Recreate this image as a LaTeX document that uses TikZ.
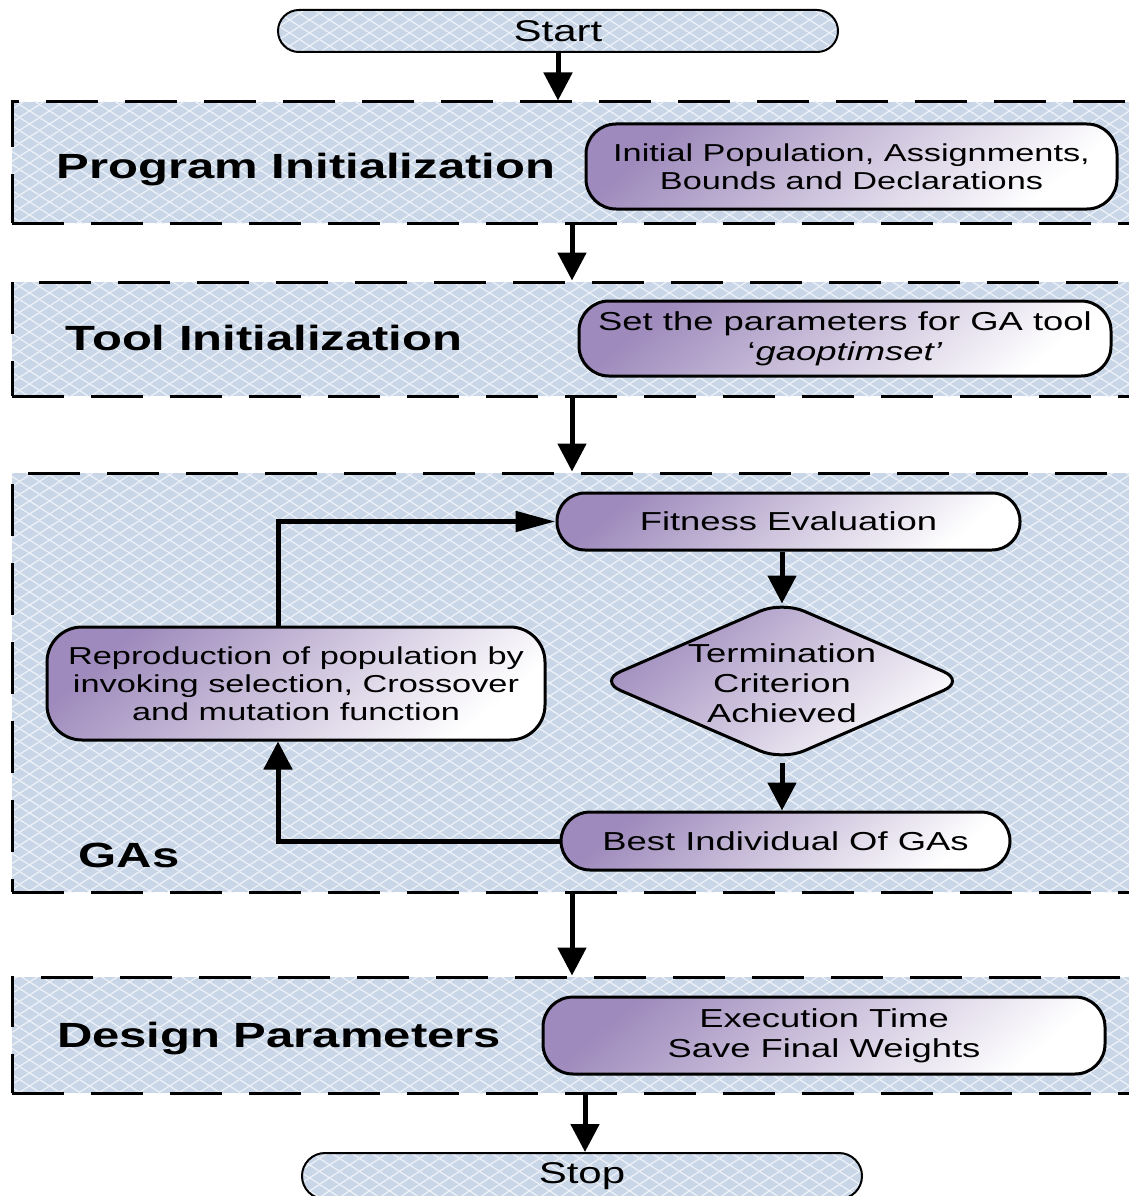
\documentclass[tikz,border=0pt]{standalone}
\usepackage{fontspec}
\setmainfont{Liberation Sans}[FakeStretch=1.4]
\usetikzlibrary{shapes.geometric,arrows.meta,calc,patterns.meta}
\definecolor{bandblue}{RGB}{200,214,231}
\definecolor{hatchwhite}{RGB}{238,242,248}
\definecolor{gpur}{RGB}{158,138,188}
\definecolor{gmid}{RGB}{210,200,226}
\pgfdeclarepattern{
  name=diamondhatch, type=uncolored,
  bottom left={\pgfpoint{0pt}{0pt}}, top right={\pgfpoint{20pt}{13pt}},
  tile size={\pgfpoint{20pt}{13pt}},
  code={
    \pgfsetlinewidth{1.3pt}
    \pgfpathmoveto{\pgfpoint{-2pt}{-1.3pt}}\pgfpathlineto{\pgfpoint{22pt}{14.3pt}}
    \pgfpathmoveto{\pgfpoint{-2pt}{14.3pt}}\pgfpathlineto{\pgfpoint{22pt}{-1.3pt}}
    \pgfusepath{stroke}
  }}
\tikzset{
  hatch/.style={path picture={
    \fill[pattern=diamondhatch, pattern color=hatchwhite]
      (path picture bounding box.south west) rectangle (path picture bounding box.north east);
    }},
  band/.style={rectangle, draw=black, line width=3pt, dash pattern=on 52pt off 27pt,
    fill=bandblue, hatch, minimum width=1128pt, inner sep=0pt},
  termbox/.style={rectangle, draw=black, line width=2pt, fill=bandblue, hatch,
    rounded corners=21pt, minimum width=560pt, minimum height=42pt, inner sep=0pt,
    font=\fontsize{30}{34}\selectfont},
  pfill/.style={draw=black, line width=3pt, top color=gpur, middle color=gmid, bottom color=white,
    shading angle=40, inner sep=0pt, font=\fontsize{26}{30}\selectfont},
  pbox/.style={pfill, rectangle, align=center},
  biglabel/.style={font=\bfseries\fontsize{35}{40}\selectfont},
  arr/.style={line width=5pt, -{Triangle[width=28pt,length=28pt]}},
  arrh/.style={line width=5pt, -{Triangle[width=20pt,length=40pt]}},
}
\begin{document}
\begin{tikzpicture}[x=1pt,y=-1pt]
\useasboundingbox (0,0) rectangle (1128,1196);
\fill[white] (0,0) rectangle (1128,1196);

% bands
\node[band, minimum height=121pt] (b1) at (576,162.5) {};
\node[band, minimum height=114pt] (b2) at (576,339) {};
\node[band, minimum height=419pt] (b3) at (576,682.5) {};
\node[band, minimum height=116pt] (b4) at (576,1035) {};

% terminals
\node[termbox] (start) at (558,31) {Start};
\node[termbox, minimum height=46pt, rounded corners=23pt] (stop) at (582,1176) {Stop};

% band labels
\node[biglabel] (l1) at (306,170) {Program Initialization};
\node[biglabel] (l2) at (264,338) {Tool Initialization};
\node[biglabel] (l3) at (129,855) {GAs};
\node[biglabel] (l4) at (279,1039) {Design Parameters};

% process boxes
\node[pbox, minimum width=531pt, minimum height=85pt, rounded corners=30pt,
  font=\fontsize{24.5}{28}\selectfont] (init) at (851.5,166.5)
  {Initial Population, Assignments,\\Bounds and Declarations};
\node[pbox, minimum width=532pt, minimum height=75pt, rounded corners=30pt] (gaset) at (845,338.5)
  {Set the parameters for GA tool\\‘\textit{gaoptimset’}};
\node[pbox, minimum width=463pt, minimum height=57pt, rounded corners=28pt] (fit) at (788.5,521.5)
  {Fitness Evaluation};
\node[pfill, diamond, minimum width=368pt, minimum height=160pt, rounded corners=24pt] (crit) at (782,681)
  {\smash{\makebox[0pt]{\raisebox{-12pt}{\begin{tabular}{@{}c@{}}Termination\\Criterion\\Achieved\end{tabular}}}}};
\node[pbox, minimum width=498pt, minimum height=113pt, rounded corners=35pt,
  font=\fontsize{24.5}{28}\selectfont] (repro) at (296,683.5)
  {Reproduction of population by\\invoking selection, Crossover\\and mutation function};
\node[pbox, minimum width=449pt, minimum height=58pt, rounded corners=29pt] (best) at (785.5,841)
  {Best Individual Of GAs};
\node[pbox, minimum width=562pt, minimum height=77pt, rounded corners=30pt] (exec) at (824,1035.5)
  {Execution Time\\Save Final Weights};

% connectors
\coordinate (ax1) at (572,0);
\coordinate (ax2) at (585,0);
\coordinate (lx) at (278,0);
\draw[arr] (start.south) -- (start.south |- b1.north);
\draw[arr] (ax1 |- b1.south) -- (ax1 |- b2.north);
\draw[arr] (ax1 |- b2.south) -- (ax1 |- b3.north);
\draw[arr] (ax1 |- b3.south) -- (ax1 |- b4.north);
\draw[arr] (ax2 |- b4.south) -- (ax2 |- stop.north);
\draw[arr] (fit.south -| crit.north) -- ++(0,52);
\draw[arr] (crit.south) -- (crit.south |- best.north);
\draw[arr] (best.west) -| (lx |- repro.south);
\draw[arrh] (lx |- repro.north) |- (fit.west);
\end{tikzpicture}
\end{document}
